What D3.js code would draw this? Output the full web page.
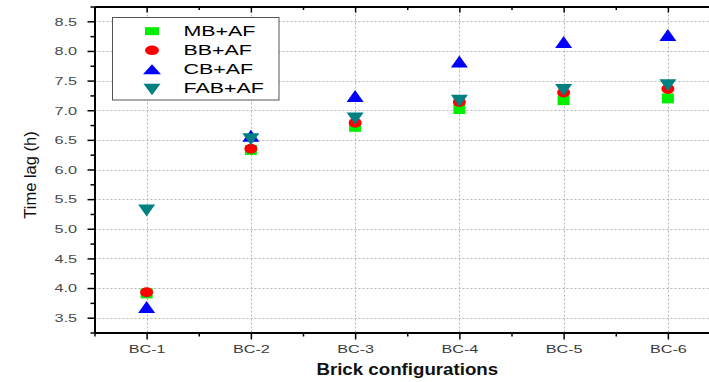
<!DOCTYPE html>
<html>
<head>
<meta charset="utf-8">
<script src="https://cdn.jsdelivr.net/npm/d3@7/dist/d3.min.js"></script>
<style>
  html, body { margin: 0; padding: 0; background: #fff; }
  svg { display: block; font-family: "Liberation Sans", Arial, sans-serif; }
</style>
</head>
<body>
<svg id="chart" width="709" height="382"></svg>
<script>
// Time lag per brick configuration
const categories = ["BC-1", "BC-2", "BC-3", "BC-4", "BC-5", "BC-6"];
const seriesNames = ["MB+AF", "BB+AF", "CB+AF", "FAB+AF"];
const mbAF  = [3.91, 6.33, 6.72, 7.02, 7.17, 7.20];
const bbAF  = [3.93, 6.35, 6.79, 7.14, 7.30, 7.36];
const cbAF  = [3.68, 6.57, 7.24, 7.82, 8.15, 8.27];
const fabAF = [5.31, 6.51, 6.86, 7.16, 7.34, 7.42];
const yTicks = [3.5, 4.0, 4.5, 5.0, 5.5, 6.0, 6.5, 7.0, 7.5, 8.0, 8.5];
const yMinor = [3.25, 3.75, 4.25, 4.75, 5.25, 5.75, 6.25, 6.75, 7.25, 7.75, 8.25, 8.75];

const colors = ["#00ee00", "#ff0000", "#0000ff", "#008080"];
const seriesValues = [mbAF, bbAF, cbAF, fabAF];

// marker outlines centred on the origin
const shapes = {
  square: (w, h) => `M${-w/2},${-h/2}h${w}v${h}h${-w}Z`,
  circle: (w, h) => `M${-w/2},0a${w/2},${h/2} 0 1,0 ${w},0a${w/2},${h/2} 0 1,0 ${-w},0Z`,
  up:     (w, h) => `M0,${-h/2}L${w/2},${h/2}L${-w/2},${h/2}Z`,
  down:   (w, h) => `M${-w/2},${-h/2}L${w/2},${-h/2}L0,${h/2}Z`
};
const shapeKeys = ["square", "circle", "up", "down"];
const plotSize = [[12, 10], [13, 10], [17, 12], [17, 12]];
const legendSize = [[14, 8], [14, 9.5], [18, 10], [17, 11.5]];

const svg = d3.select("#chart");
const plotLeft = 94.5, plotRight = 720, plotTop = 6.5, plotBottom = 332.5;

const x = d3.scaleLinear().domain([0.5, 6.5]).range([plotLeft, plotRight]);
const y = d3.scaleLinear().domain([3.25, 8.75]).range([plotBottom, plotTop]);

// dotted grid
const grid = svg.append("g").attr("stroke", "#b4b4b4").attr("stroke-width", 1)
  .attr("stroke-dasharray", "2,2");
grid.selectAll("line.h").data(yTicks).join("line").attr("class", "h")
  .attr("x1", plotLeft).attr("x2", plotRight)
  .attr("y1", d => Math.round(y(d)) + 0.5).attr("y2", d => Math.round(y(d)) + 0.5);
grid.selectAll("line.v").data(categories).join("line").attr("class", "v")
  .attr("y1", plotTop).attr("y2", plotBottom)
  .attr("x1", (d, i) => Math.round(x(i + 1)) + 0.5).attr("x2", (d, i) => Math.round(x(i + 1)) + 0.5);

// axes
const xMajor = d3.range(1, 7);
const xMinor = d3.range(0.5, 7, 1);

function styleAxis(g) {
  g.selectAll("path.domain").attr("stroke", "#000").attr("stroke-width", 2);
  g.selectAll(".tick line").attr("stroke", "#000").attr("stroke-width", 1.5);
}

// bottom
const gx = svg.append("g").attr("transform", `translate(0,${plotBottom})`)
  .call(d3.axisBottom(x).tickValues(xMajor).tickSize(7).tickSizeOuter(0)
    .tickFormat(d => categories[d - 1]));
styleAxis(gx);
const sx = 1.5;
gx.selectAll(".tick text")
  .attr("y", 20.5).attr("dy", 0).attr("font-size", 10.8).attr("fill", "#3a3a3a")
  .attr("transform", `scale(${sx},1)`);
svg.append("g").attr("transform", `translate(0,${plotBottom})`)
  .call(d3.axisBottom(x).tickValues(xMinor).tickSize(4).tickSizeOuter(0).tickFormat(""))
  .call(styleAxis);

// top
svg.append("g").attr("transform", `translate(0,${plotTop})`)
  .call(d3.axisTop(x).tickValues(xMajor).tickSize(-6).tickSizeOuter(0).tickFormat(""))
  .call(styleAxis);
svg.append("g").attr("transform", `translate(0,${plotTop})`)
  .call(d3.axisTop(x).tickValues(xMinor).tickSize(-3.5).tickSizeOuter(0).tickFormat(""))
  .call(styleAxis);

// left
const sy = 1.55;
const gy = svg.append("g").attr("transform", `translate(${plotLeft},0)`)
  .call(d3.axisLeft(y).tickValues(yTicks).tickSize(7).tickSizeOuter(0).tickFormat(d3.format(".1f")));
styleAxis(gy);
gy.selectAll(".tick text")
  .attr("x", -17.5 / sy).attr("dy", "0.36em").attr("font-size", 10.5).attr("fill", "#4a4a4a")
  .attr("transform", `scale(${sy},1)`);
svg.append("g").attr("transform", `translate(${plotLeft},0)`)
  .call(d3.axisLeft(y).tickValues(yMinor).tickSize(4).tickSizeOuter(0).tickFormat(""))
  .call(styleAxis);

// right
svg.append("g").attr("transform", `translate(${plotRight},0)`)
  .call(d3.axisRight(y).tickValues(yTicks).tickSize(-7).tickSizeOuter(0).tickFormat(""))
  .call(styleAxis);

// points
seriesValues.forEach((vals, s) => {
  const [w, h] = plotSize[s];
  svg.append("g").selectAll("path").data(vals).join("path")
    .attr("d", shapes[shapeKeys[s]](w, h))
    .attr("transform", (d, i) => `translate(${x(i + 1)},${y(d)})`)
    .attr("fill", colors[s]);
});

// axis titles
svg.append("text")
  .attr("transform", `translate(${(plotLeft + plotRight) / 2},375) scale(1.1,1)`)
  .attr("text-anchor", "middle").attr("font-size", 17).attr("font-weight", "bold")
  .attr("fill", "#111").text("Brick configurations");
svg.append("text")
  .attr("transform", "translate(36,175) rotate(-90)")
  .attr("text-anchor", "middle").attr("font-size", 16.5).attr("fill", "#111")
  .text("Time lag (h)");

// legend
const legend = svg.append("g");
legend.append("rect").attr("x", 112.5).attr("y", 17.5).attr("width", 166.5).attr("height", 82.5)
  .attr("fill", "#fff").attr("stroke", "#555").attr("stroke-width", 1);
const rowY = [31.2, 50.3, 69.3, 89.5];
const rowBase = [36, 55, 74, 93.3];
seriesNames.forEach((name, s) => {
  const [w, h] = legendSize[s];
  legend.append("path").attr("d", shapes[shapeKeys[s]](w, h))
    .attr("transform", `translate(152,${rowY[s]})`).attr("fill", colors[s]);
  legend.append("text")
    .attr("transform", `translate(183.5,${rowBase[s]}) scale(1.39,1)`)
    .attr("font-size", 15.4).attr("fill", "#000").text(name);
});
</script>
</body>
</html>
